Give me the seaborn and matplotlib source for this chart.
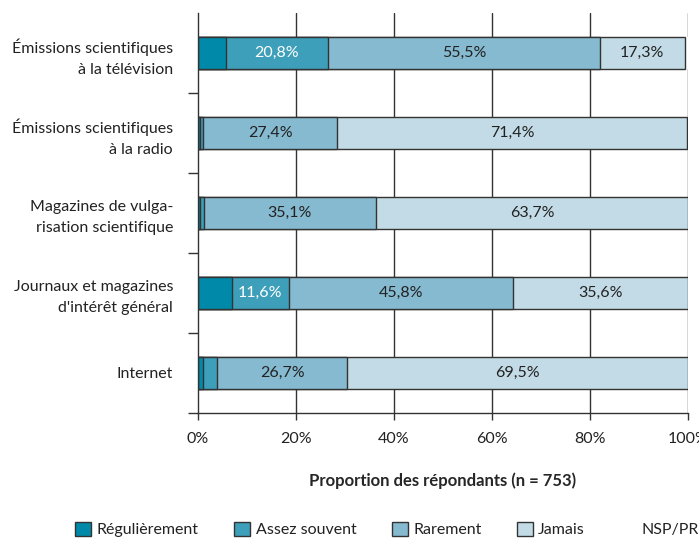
import matplotlib
matplotlib.use("Agg")
import matplotlib.pyplot as plt
import matplotlib.patches as mpatches
import seaborn as sns
import numpy as np
import pandas as pd

categories = [
    "Émissions scientifiques\nà la télévision",
    "Émissions scientifiques\nà la radio",
    "Magazines de vulga-\nrisation scientifique",
    "Journaux et magazines\nd'intérêt général",
    "Internet",
]
series = ["Régulièrement", "Assez souvent", "Rarement", "Jamais", "NSP/PR"]

regulierement = [5.7, 0.4, 0.4, 6.9, 1.0]
assez_souvent = [20.8, 0.6, 0.8, 11.6, 2.8]
rarement = [55.5, 27.4, 35.1, 45.8, 26.7]
jamais = [17.3, 71.4, 63.7, 35.6, 69.5]
nsp_pr = [0.7, 0.2, 0.0, 0.1, 0.0]

colors = ["#0089a8", "#3d9fb9", "#86bad0", "#c3dbe6", "#ffffff"]
label_colors = [None, "white", "#222222", "#222222", None]

sns.set_style("white")
plt.rcParams["font.family"] = ["Lato", "DejaVu Sans"]
plt.rcParams["text.color"] = "#222222"
plt.rcParams["xtick.color"] = "#333333"
plt.rcParams["ytick.color"] = "#333333"
plt.rcParams["xtick.labelcolor"] = "#222222"
plt.rcParams["ytick.labelcolor"] = "#222222"

df = pd.DataFrame(
    {
        "media": categories,
        "Régulièrement": regulierement,
        "Assez souvent": assez_souvent,
        "Rarement": rarement,
        "Jamais": jamais,
        "NSP/PR": nsp_pr,
    }
)
cum = df[series].cumsum(axis=1)

fig, ax = plt.subplots(figsize=(6.99, 5.41), dpi=100)
fig.subplots_adjust(left=0.2833, right=0.9843, top=0.976, bottom=0.2366)

# gridlines behind the bars
for x in [20, 40, 60, 80, 100]:
    ax.axvline(x, color="#333333", lw=1.0, zorder=0)

# stacked bars: draw cumulative totals from the back to the front
for i in range(len(series) - 1, -1, -1):
    s = series[i]
    edge = "none" if s == "NSP/PR" else "#333333"
    plot_df = pd.DataFrame({"media": categories, "val": cum[s].values})
    sns.barplot(
        data=plot_df, y="media", x="val", orient="h", order=categories,
        color=colors[i], edgecolor=edge, linewidth=1.0, width=0.4,
        saturation=1, ax=ax, zorder=2,
    )

# value labels
for j in range(len(categories)):
    for i, s in enumerate(series):
        v = df.loc[j, s]
        if v >= 10:
            start = cum.loc[j, s] - v
            ax.text(start + v / 2, j, f"{v:.1f}%".replace(".", ","),
                    ha="center", va="center", fontsize=11.5,
                    color=label_colors[i], zorder=3)

ax.set_xlim(0, 100)
ax.set_ylim(len(categories) - 0.5, -0.5)
ax.set_xticks([0, 20, 40, 60, 80, 100])
ax.set_xticklabels(["0%", "20%", "40%", "60%", "80%", "100%"], fontsize=11.5)
ax.tick_params(axis="x", bottom=True, length=5, width=1, direction="out", pad=9)

ax.set_yticks([j + 0.5 for j in range(len(categories))])
ax.set_yticklabels([])
ax.tick_params(axis="y", which="major", left=True, length=7, width=1,
               direction="out")
ax.set_yticks(range(len(categories)), minor=True)
ax.set_yticklabels(categories, minor=True, fontsize=11.5, linespacing=1.6,
                   ha="right")
ax.tick_params(axis="y", which="minor", left=False, length=0, pad=18)

ax.set_xlabel("Proportion des répondants (n = 753)", fontsize=12,
              fontweight="bold", labelpad=19)
ax.set_ylabel("")

for side in ["top", "right"]:
    ax.spines[side].set_visible(False)
for side in ["left", "bottom"]:
    ax.spines[side].set_color("#333333")
    ax.spines[side].set_linewidth(1.0)
    ax.spines[side].set_zorder(4)

handles = []
for i, s in enumerate(series):
    ec = "white" if s == "NSP/PR" else "#333333"
    handles.append(mpatches.Patch(facecolor=colors[i], edgecolor=ec, label=s))
fig.legend(handles=handles, loc="lower center", ncol=5, frameon=False,
           bbox_to_anchor=(0.554, -0.02), fontsize=11.5, columnspacing=2.2,
           handlelength=1.0, handleheight=1.0, handletextpad=0.35)

fig.savefig("out.png", dpi=100)
